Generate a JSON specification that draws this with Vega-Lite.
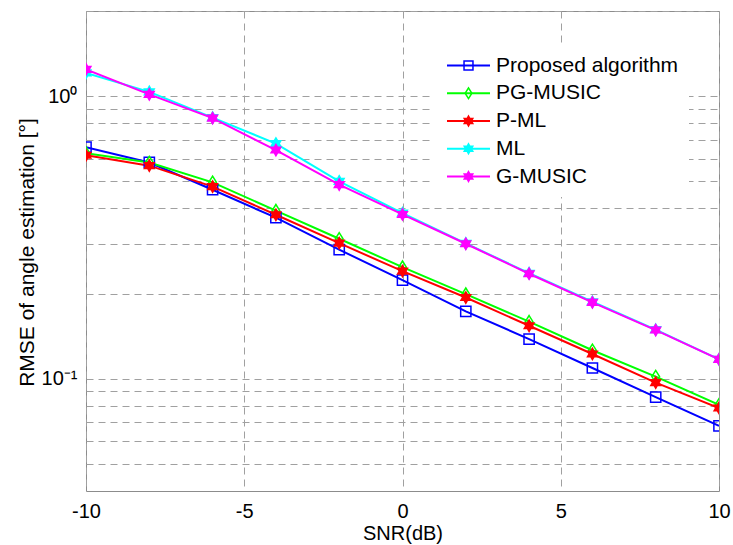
{
  "$schema": "https://vega.github.io/schema/vega-lite/v6.json",
  "width": 633,
  "height": 480,
  "autosize": {"type": "none"},
  "padding": {"left": 86, "top": 11, "right": 14, "bottom": 54},
  "background": "white",
  "config": {
    "font": "Liberation Sans",
    "view": {"stroke": "#8c8c8c", "strokeWidth": 1},
    "axis": {
      "labelFont": "Liberation Sans",
      "labelFontSize": 20,
      "labelColor": "black",
      "titleFont": "Liberation Sans",
      "titleFontSize": 20,
      "titleFontWeight": "normal",
      "titleColor": "black",
      "domain": false,
      "ticks": false,
      "gridColor": "#a0a0a0",
      "gridDash": [7, 5],
      "gridWidth": 1,
      "gridOpacity": 1
    }
  },
  "data": {
    "values": [
      {"snr": -10, "rmse": 0.659, "method": "Proposed algorithm"},
      {"snr": -8, "rmse": 0.582, "method": "Proposed algorithm"},
      {"snr": -6, "rmse": 0.466, "method": "Proposed algorithm"},
      {"snr": -4, "rmse": 0.371, "method": "Proposed algorithm"},
      {"snr": -2, "rmse": 0.286, "method": "Proposed algorithm"},
      {"snr": 0, "rmse": 0.223, "method": "Proposed algorithm"},
      {"snr": 2, "rmse": 0.173, "method": "Proposed algorithm"},
      {"snr": 4, "rmse": 0.138, "method": "Proposed algorithm"},
      {"snr": 6, "rmse": 0.109, "method": "Proposed algorithm"},
      {"snr": 8, "rmse": 0.086, "method": "Proposed algorithm"},
      {"snr": 10, "rmse": 0.068, "method": "Proposed algorithm"},
      {"snr": -10, "rmse": 0.628, "method": "PG-MUSIC"},
      {"snr": -8, "rmse": 0.582, "method": "PG-MUSIC"},
      {"snr": -6, "rmse": 0.495, "method": "PG-MUSIC"},
      {"snr": -4, "rmse": 0.393, "method": "PG-MUSIC"},
      {"snr": -2, "rmse": 0.3125, "method": "PG-MUSIC"},
      {"snr": 0, "rmse": 0.248, "method": "PG-MUSIC"},
      {"snr": 2, "rmse": 0.199, "method": "PG-MUSIC"},
      {"snr": 4, "rmse": 0.159, "method": "PG-MUSIC"},
      {"snr": 6, "rmse": 0.126, "method": "PG-MUSIC"},
      {"snr": 8, "rmse": 0.1016, "method": "PG-MUSIC"},
      {"snr": 10, "rmse": 0.0808, "method": "PG-MUSIC"},
      {"snr": -10, "rmse": 0.617, "method": "P-ML"},
      {"snr": -8, "rmse": 0.567, "method": "P-ML"},
      {"snr": -6, "rmse": 0.478, "method": "P-ML"},
      {"snr": -4, "rmse": 0.38, "method": "P-ML"},
      {"snr": -2, "rmse": 0.3015, "method": "P-ML"},
      {"snr": 0, "rmse": 0.24, "method": "P-ML"},
      {"snr": 2, "rmse": 0.1936, "method": "P-ML"},
      {"snr": 4, "rmse": 0.1538, "method": "P-ML"},
      {"snr": 6, "rmse": 0.1222, "method": "P-ML"},
      {"snr": 8, "rmse": 0.0968, "method": "P-ML"},
      {"snr": 10, "rmse": 0.0787, "method": "P-ML"},
      {"snr": -10, "rmse": 1.208, "method": "ML"},
      {"snr": -8, "rmse": 1.035, "method": "ML"},
      {"snr": -6, "rmse": 0.839, "method": "ML"},
      {"snr": -4, "rmse": 0.679, "method": "ML"},
      {"snr": -2, "rmse": 0.499, "method": "ML"},
      {"snr": 0, "rmse": 0.385, "method": "ML"},
      {"snr": 2, "rmse": 0.301, "method": "ML"},
      {"snr": 4, "rmse": 0.236, "method": "ML"},
      {"snr": 6, "rmse": 0.187, "method": "ML"},
      {"snr": 8, "rmse": 0.149, "method": "ML"},
      {"snr": 10, "rmse": 0.117, "method": "ML"},
      {"snr": -10, "rmse": 1.243, "method": "G-MUSIC"},
      {"snr": -8, "rmse": 1.014, "method": "G-MUSIC"},
      {"snr": -6, "rmse": 0.835, "method": "G-MUSIC"},
      {"snr": -4, "rmse": 0.644, "method": "G-MUSIC"},
      {"snr": -2, "rmse": 0.486, "method": "G-MUSIC"},
      {"snr": 0, "rmse": 0.381, "method": "G-MUSIC"},
      {"snr": 2, "rmse": 0.3, "method": "G-MUSIC"},
      {"snr": 4, "rmse": 0.235, "method": "G-MUSIC"},
      {"snr": 6, "rmse": 0.186, "method": "G-MUSIC"},
      {"snr": 8, "rmse": 0.1485, "method": "G-MUSIC"},
      {"snr": 10, "rmse": 0.117, "method": "G-MUSIC"}
    ]
  },
  "encoding": {
    "x": {
      "field": "snr",
      "type": "quantitative",
      "scale": {"domain": [-10, 10], "nice": false, "zero": false},
      "axis": {
        "values": [-10, -5, 0, 5, 10],
        "labelExpr": "datum.value < 0 ? '-' + abs(datum.value) : '' + datum.value",
        "labelFlush": false,
        "title": "SNR(dB)",
        "labelBaseline": "alphabetic",
        "labelPadding": 26,
        "titleBaseline": "alphabetic",
        "titleY": 48,
        "titlePadding": 0
      }
    },
    "y": {
      "field": "rmse",
      "type": "quantitative",
      "scale": {"type": "log", "domain": [0.04, 2], "nice": false},
      "axis": {
        "values": [0.05, 0.06, 0.07, 0.08, 0.09, 0.1, 0.2, 0.3, 0.4, 0.5, 0.6, 0.7, 0.8, 0.9, 1, 2],
        "labelExpr": "datum.value == 1 ? '10⁰' : (abs(datum.value - 0.1) < 1e-9 ? '10⁻¹' : '')",
        "labelFlush": false,
        "labelPadding": 9,
        "title": "RMSE of angle estimation [°]",
        "titleFontSize": 21,
        "titleX": -53,
        "titleY": 241,
        "titleBaseline": "alphabetic",
        "titleAlign": "center",
        "titleAngle": -90
      }
    }
  },
  "layer": [
    {
      "mark": {"type": "line", "strokeWidth": 2, "clip": true},
      "encoding": {
        "color": {
          "field": "method",
          "type": "nominal",
          "scale": {
            "domain": ["Proposed algorithm", "PG-MUSIC", "P-ML", "ML", "G-MUSIC"],
            "range": ["#0000ff", "#00ff00", "#ff0000", "#00ffff", "#ff00ff"]
          },
          "legend": {
            "title": null,
            "orient": "none",
            "legendX": 347,
            "legendY": 34,
            "padding": 10,
            "fillColor": "white",
            "strokeColor": null,
            "labelFont": "Liberation Sans",
            "labelFontSize": 21,
            "labelColor": "black",
            "labelLimit": 300,
            "labelOffset": 17,
            "symbolOffset": 15,
            "symbolSize": 100,
            "symbolType": "M-4.3,0H4.3",
            "symbolStrokeWidth": 2,
            "rowPadding": 5.75
          }
        }
      }
    },
    {
      "mark": {"type": "point", "strokeWidth": 1.5, "size": 105, "opacity": 1, "clip": true},
      "encoding": {
        "stroke": {
          "field": "method",
          "type": "nominal",
          "scale": {
            "domain": ["Proposed algorithm", "PG-MUSIC", "P-ML", "ML", "G-MUSIC", " "],
            "range": ["#0000ff", "#00ff00", "#ff0000", "#00ffff", "#ff00ff", "transparent"]
          },
          "legend": {
            "title": null,
            "orient": "none",
            "legendX": 347,
            "legendY": 34,
            "padding": 10,
            "labelFont": "Liberation Sans",
            "labelFontSize": 21,
            "labelOpacity": 0,
            "labelLimit": 300,
            "labelOffset": 17,
            "symbolOffset": 15,
            "symbolSize": 80,
            "symbolStrokeWidth": 1.5,
            "symbolOpacity": 1,
            "rowPadding": 5.75
          }
        },
        "shape": {
          "field": "method",
          "type": "nominal",
          "scale": {
            "domain": ["Proposed algorithm", "PG-MUSIC", "P-ML", "ML", "G-MUSIC", " "],
            "range": [
              "square",
              "M0,-1.2L0.75,0L0,1.2L-0.75,0Z",
              "M0,-1.1L0.318,-0.55L0.953,-0.55L0.635,0L0.953,0.55L0.318,0.55L0,1.1L-0.318,0.55L-0.953,0.55L-0.635,0L-0.953,-0.55L-0.318,-0.55Z",
              "M0,-1.1L0.318,-0.55L0.953,-0.55L0.635,0L0.953,0.55L0.318,0.55L0,1.1L-0.318,0.55L-0.953,0.55L-0.635,0L-0.953,-0.55L-0.318,-0.55Z",
              "M0,-1.1L0.318,-0.55L0.953,-0.55L0.635,0L0.953,0.55L0.318,0.55L0,1.1L-0.318,0.55L-0.953,0.55L-0.635,0L-0.953,-0.55L-0.318,-0.55Z",
              "M0,0"
            ]
          }
        },
        "fill": {
          "field": "method",
          "type": "nominal",
          "scale": {
            "domain": ["Proposed algorithm", "PG-MUSIC", "P-ML", "ML", "G-MUSIC", " "],
            "range": ["transparent", "transparent", "#ff0000", "#00ffff", "#ff00ff", "transparent"]
          }
        }
      }
    }
  ]
}
